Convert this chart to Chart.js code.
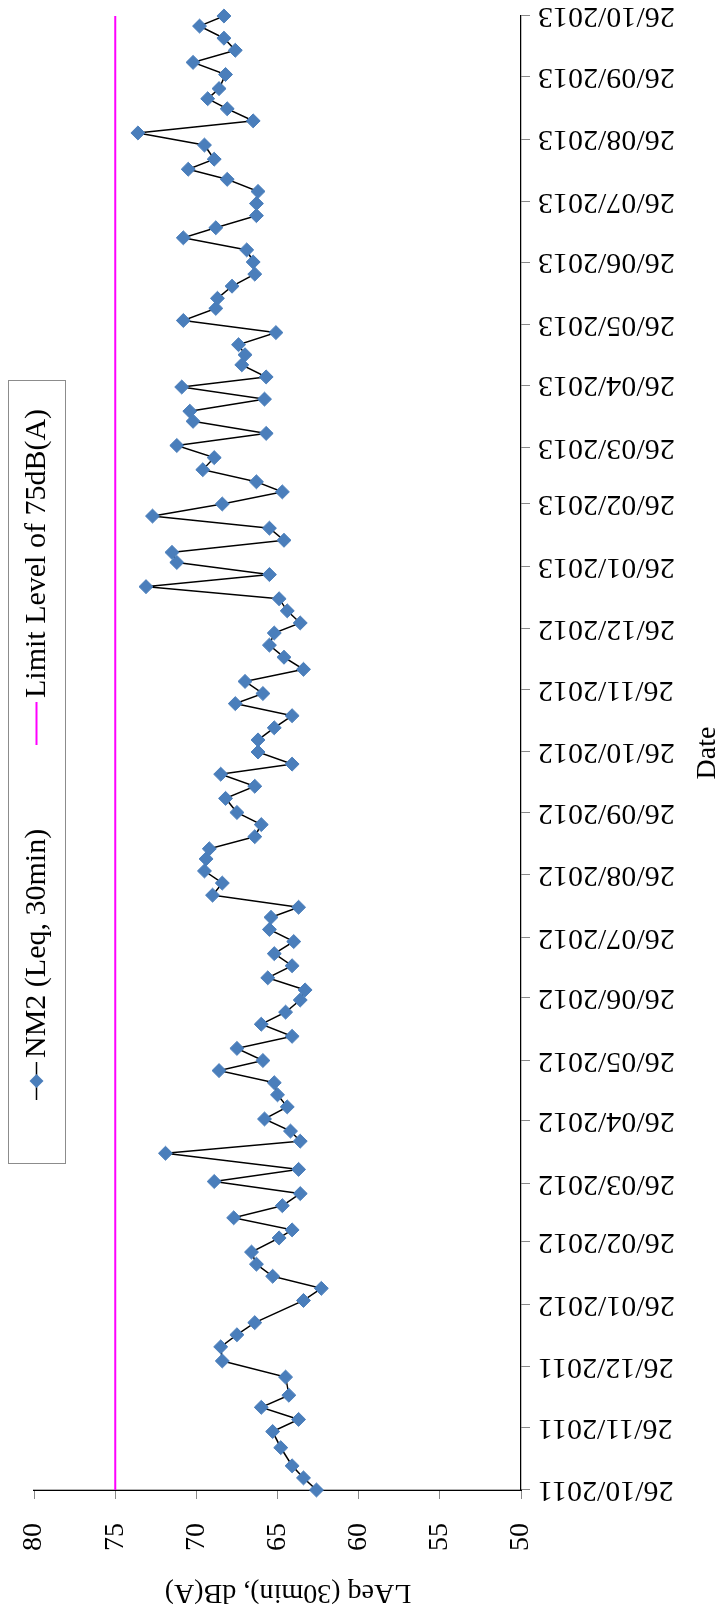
<!DOCTYPE html>
<html>
<head>
<meta charset="utf-8">
<script src="https://cdn.jsdelivr.net/npm/chart.js@4.4.0/dist/chart.umd.min.js"></script>
<style>
  html, body { margin: 0; padding: 0; background: #fff; overflow: hidden; }
  #page { position: relative; width: 720px; height: 1615px; }
  /* chart is drawn landscape, then turned a quarter turn anticlockwise */
  #turn { position: absolute; left: 0; top: 0; width: 1615px; height: 720px;
          transform-origin: 0 0; transform: translate(0, 1615px) rotate(-90deg); }
</style>
</head>
<body>
<div id="page"><div id="turn"><canvas id="noiseChart" width="1615" height="720"></canvas></div></div>
<script>
const dateTicks = [
  "26/10/2011", "26/11/2011", "26/12/2011", "26/01/2012", "26/02/2012", "26/03/2012",
  "26/04/2012", "26/05/2012", "26/06/2012", "26/07/2012", "26/08/2012", "26/09/2012",
  "26/10/2012", "26/11/2012", "26/12/2012", "26/01/2013", "26/02/2013", "26/03/2013",
  "26/04/2013", "26/05/2013", "26/06/2013", "26/07/2013", "26/08/2013", "26/09/2013",
  "26/10/2013"
];

// days after 26/10/2011 of each NM2 measurement
const sampleDays = [
  0, 6, 12, 21, 29, 35, 41, 47, 56, 64,
  71, 77, 83, 94, 100, 106, 112, 118, 125, 129,
  135, 141, 147, 153, 159, 167, 173, 178, 184, 190,
  196, 202, 208, 213, 219, 225, 231, 237, 243, 248,
  254, 260, 266, 272, 278, 284, 289, 295, 301, 307,
  313, 318, 324, 330, 336, 343, 349, 355, 360, 366,
  372, 378, 384, 390, 395, 401, 407, 413, 419, 425,
  430, 436, 442, 448, 454, 460, 465, 471, 477, 483,
  489, 495, 500, 506, 512, 518, 524, 530, 535, 541,
  547, 552, 558, 563, 568, 574, 580, 586, 591, 597,
  603, 609, 615, 621, 626, 632, 638, 644, 650, 655,
  660, 667, 673, 679, 685, 690, 695, 702, 708, 714,
  720, 726, 731
];

const nm2Levels = [
  62.6, 63.4, 64.1, 64.8, 65.3, 63.7, 66.0, 64.3, 64.5, 68.4,
  68.5, 67.5, 66.4, 63.4, 62.3, 65.3, 66.3, 66.6, 64.9, 64.1,
  67.7, 64.7, 63.6, 68.9, 63.7, 71.9, 63.6, 64.2, 65.8, 64.4,
  65.0, 65.2, 68.6, 65.9, 67.5, 64.1, 66.0, 64.5, 63.6, 63.3,
  65.6, 64.1, 65.2, 64.0, 65.5, 65.4, 63.7, 69.0, 68.4, 69.5,
  69.4, 69.2, 66.4, 66.0, 67.5, 68.2, 66.4, 68.5, 64.1, 66.2,
  66.2, 65.2, 64.1, 67.6, 65.9, 67.0, 63.4, 64.6, 65.5, 65.2,
  63.6, 64.4, 64.9, 73.1, 65.5, 71.2, 71.5, 64.6, 65.5, 72.7,
  68.4, 64.7, 66.3, 69.6, 68.9, 71.2, 65.7, 70.2, 70.4, 65.8,
  70.9, 65.7, 67.2, 67.0, 67.4, 65.1, 70.8, 68.8, 68.7, 67.8,
  66.4, 66.5, 66.9, 70.8, 68.8, 66.3, 66.3, 66.2, 68.1, 70.5,
  68.9, 69.5, 73.6, 66.5, 68.1, 69.3, 68.6, 68.2, 70.2, 67.6,
  68.3, 69.8, 68.3
];

const limitLevel = 75;
const levelTicks = [50, 55, 60, 65, 70, 75, 80];

const serif = "'Liberation Serif', 'Times New Roman', serif";

function toUTC(s) {
  const p = s.split("/");
  return Date.UTC(+p[2], +p[1] - 1, +p[0]);
}
const startTime = toUTC(dateTicks[0]);
const tickDays = dateTicks.map((s) => Math.round((toUTC(s) - startTime) / 86400000));
const lastDay = tickDays[tickDays.length - 1];

// legend box sitting inside the plot, like the original
const legendBox = {
  id: "legendBox",
  afterDraw(chart) {
    const ctx = chart.ctx;
    const ds = chart.data.datasets;
    const top = 8, h = 57, mid = top + h / 2;
    ctx.save();
    ctx.fillStyle = "#fff";
    ctx.fillRect(451, top, 783, h);
    ctx.strokeStyle = "#8c8c8c";
    ctx.lineWidth = 1;
    ctx.strokeRect(451.5, top + 0.5, 783, h);

    ctx.font = "30px " + serif;
    ctx.textBaseline = "middle";

    // NM2 entry
    ctx.strokeStyle = ds[0].borderColor;
    ctx.lineWidth = 1.5;
    ctx.beginPath(); ctx.moveTo(515, mid); ctx.lineTo(553, mid); ctx.stroke();
    ctx.fillStyle = ds[0].pointBackgroundColor;
    ctx.beginPath();
    ctx.moveTo(534 - 7, mid); ctx.lineTo(534, mid - 7); ctx.lineTo(534 + 7, mid); ctx.lineTo(534, mid + 7);
    ctx.closePath(); ctx.fill();
    ctx.fillStyle = "#000";
    ctx.fillText(ds[0].label, 557, mid + 1);

    // limit entry
    ctx.strokeStyle = ds[1].borderColor;
    ctx.lineWidth = 2;
    ctx.beginPath(); ctx.moveTo(870, mid); ctx.lineTo(913, mid); ctx.stroke();
    ctx.fillText(ds[1].label, 917, mid + 1);
    ctx.restore();
  }
};

const ctx = document.getElementById("noiseChart").getContext("2d");

const chart = new Chart(ctx, {
  type: "line",
  data: {
    datasets: [
      {
        label: "NM2 (Leq, 30min)",
        data: sampleDays.map((d, i) => ({ x: d, y: nm2Levels[i] })),
        borderColor: "#000000",
        borderWidth: 1.5,
        pointStyle: "rectRot",
        pointRadius: 7,
        pointBackgroundColor: "#4A7EBB",
        pointBorderColor: "#4A7EBB",
        pointBorderWidth: 1,
        tension: 0,
        clip: false,
        order: 1,
      },
      {
        label: "Limit Level of 75dB(A)",
        data: [
          { x: tickDays[0], y: limitLevel },
          { x: lastDay, y: limitLevel },
        ],
        borderColor: "#FF00FF",
        borderWidth: 2,
        pointRadius: 0,
        order: 2,
      },
    ],
  },
  options: {
    responsive: false,
    animation: false,
    layout: { padding: { top: 34, right: 16, left: 0, bottom: 0 } },
    plugins: {
      legend: { display: false },
      tooltip: { enabled: false },
    },
    scales: {
      x: {
        type: "linear",
        min: tickDays[0],
        max: lastDay,
        afterBuildTicks: (scale) => {
          scale.ticks = tickDays.map((v) => ({ value: v }));
        },
        afterFit: (scale) => {
          scale.height = 199;
          scale.paddingLeft = 0;
          scale.paddingRight = 0;
        },
        ticks: {
          autoSkip: false,
          maxRotation: 90,
          minRotation: 90,
          padding: 8,
          color: "#000",
          font: { family: serif, size: 30 },
          callback: (v) => dateTicks[tickDays.indexOf(v)],
        },
        grid: { drawOnChartArea: false, tickLength: 9, color: "#888" },
        border: { color: "#000", width: 1.3 },
        title: {
          display: true,
          text: "Date",
          color: "#000",
          font: { family: serif, size: 28 },
          padding: { top: 0, bottom: -4 },
        },
      },
      y: {
        min: 50,
        max: 80,
        afterBuildTicks: (scale) => {
          scale.ticks = levelTicks.map((v) => ({ value: v }));
        },
        afterFit: (scale) => {
          scale.width = 125;
          scale.paddingTop = 0;
          scale.paddingBottom = 0;
        },
        ticks: {
          padding: 24,
          color: "#000",
          font: { family: serif, size: 28 },
        },
        grid: { drawOnChartArea: false, tickLength: 9, color: "#888" },
        border: { color: "#000", width: 1.3 },
        title: {
          display: true,
          text: "LAeq (30min), dB(A)   ",
          color: "#000",
          font: { family: serif, size: 28 },
          padding: { top: 6, bottom: 0 },
        },
      },
    },
  },
  plugins: [legendBox],
});
</script>
</body>
</html>
